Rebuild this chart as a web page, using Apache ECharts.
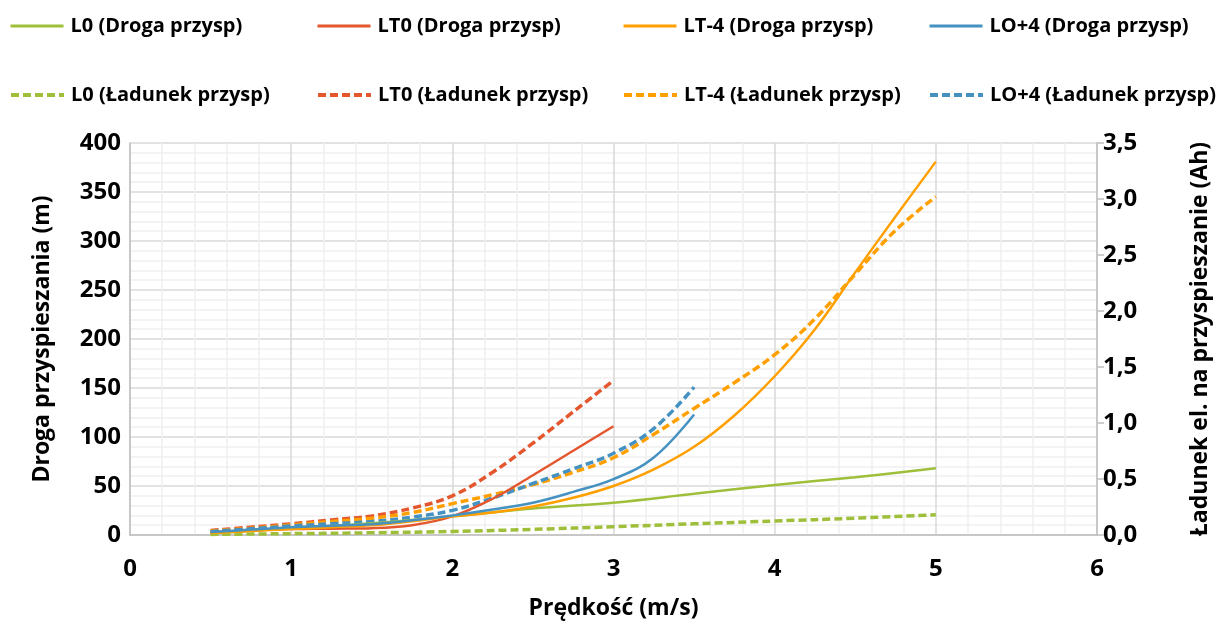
<!DOCTYPE html>
<html>
<head>
<meta charset="utf-8">
<script src="https://cdn.jsdelivr.net/npm/echarts@6/dist/echarts.min.js"></script>
<style>
html,body{margin:0;padding:0;background:#fff;}
#c{width:1220px;height:627px;}
</style>
</head>
<body>
<div id="c"></div>
<script>
// ---- data ----
const xL0 = [0.5, 1, 1.5, 2, 2.5, 3, 3.5, 4, 4.5, 5];
const L0_droga = [1.5, 7, 12, 19, 27, 33, 42, 51, 59, 68];
const L0_ladunek = [0.005, 0.012, 0.02, 0.032, 0.05, 0.074, 0.1, 0.125, 0.15, 0.18];

const xLT0 = [0.5, 0.75, 1, 1.25, 1.5, 1.75, 2, 2.25, 2.5, 2.75, 3];
const LT0_droga = [2.5, 4.5, 6, 6.5, 7, 10, 19, 37, 61, 86, 111];
const LT0_ladunek = [0.04, 0.07, 0.1, 0.135, 0.17, 0.24, 0.35, 0.56, 0.82, 1.1, 1.38];

const xLT4 = [0.5, 0.75, 1, 1.25, 1.5, 1.75, 2, 2.25, 2.5, 2.75, 3, 3.25, 3.5, 3.75, 4, 4.25, 4.5, 4.75, 5];
const LT4_droga = [2, 4, 6, 8, 10, 14, 19, 23, 29, 38, 50, 67, 90, 122, 162, 210, 268, 325, 381];
const LT4_ladunek = [0.035, 0.06, 0.09, 0.12, 0.15, 0.2, 0.28, 0.36, 0.45, 0.56, 0.69, 0.9, 1.13, 1.36, 1.61, 1.93, 2.33, 2.72, 3.02];

const xLO4 = [0.5, 0.75, 1, 1.25, 1.5, 1.75, 2, 2.25, 2.5, 2.75, 3, 3.25, 3.5];
const LO4_droga = [3, 5.5, 8, 9.5, 11, 15, 20, 26, 33, 44, 57, 79, 123];
const LO4_ladunek = [0.03, 0.055, 0.08, 0.1, 0.12, 0.16, 0.22, 0.33, 0.46, 0.59, 0.73, 0.95, 1.32];

const xTicks = [0, 1, 2, 3, 4, 5, 6];
const leftTicks = [0, 50, 100, 150, 200, 250, 300, 350, 400];
const rightTicks = [0, 0.5, 1, 1.5, 2, 2.5, 3, 3.5];

const names = [
  'L0 (Droga przysp)', 'LT0 (Droga przysp)', 'LT-4 (Droga przysp)', 'LO+4 (Droga przysp)',
  'L0 (Ładunek przysp)', 'LT0 (Ładunek przysp)', 'LT-4 (Ładunek przysp)', 'LO+4 (Ładunek przysp)'
];
const colors = ['#9fbf3b', '#e4572e', '#ffa000', '#4592c2'];

function pairs(xs, ys) { return xs.map((x, i) => [x, ys[i]]); }

const FONT = '"Open Sans", "DejaVu Sans", sans-serif';

const seriesDefs = [
  [xL0, L0_droga, 0, 0], [xLT0, LT0_droga, 1, 0], [xLT4, LT4_droga, 2, 0], [xLO4, LO4_droga, 3, 0],
  [xL0, L0_ladunek, 0, 1], [xLT0, LT0_ladunek, 1, 1], [xLT4, LT4_ladunek, 2, 1], [xLO4, LO4_ladunek, 3, 1]
];

const series = seriesDefs.map((d, i) => ({
  name: names[i],
  type: 'line',
  yAxisIndex: d[3],
  data: pairs(d[0], d[1]),
  smooth: 0.4,
  symbol: 'none',
  z: d[3] === 1 ? 3 : 4,
  lineStyle: d[3] === 1
    ? { color: colors[d[2]], width: 3.5, type: [8, 4] }
    : { color: colors[d[2]], width: 2.5, type: 'solid' },
  itemStyle: { color: colors[d[2]] }
}));

const legendX = [9, 316, 622, 928];
const legendY = [16, 85];
const legends = names.map((n, i) => ({
  data: [n],
  left: legendX[i % 4],
  top: legendY[Math.floor(i / 4)],
  itemWidth: 53,
  itemHeight: 14,
  itemGap: 0,
  padding: 0,
  itemStyle: { opacity: 0 },
  lineStyle: { width: i < 4 ? 3 : 4 },
  textStyle: { fontFamily: FONT, fontWeight: 'bold', fontSize: 20, color: '#000', padding: [0, 0, 0, 2] }
}));

const gridColor = '#d9d9d9';
const minorColor = '#efefef';

const option = {
  animation: false,
  backgroundColor: '#fff',
  legend: legends,
  grid: { left: 130, right: 122, top: 143, bottom: 92, containLabel: false },
  xAxis: {
    type: 'value',
    min: xTicks[0], max: xTicks[xTicks.length - 1], interval: 1,
    name: 'Prędkość (m/s)',
    nameLocation: 'middle',
    nameGap: 62,
    nameTextStyle: { fontFamily: FONT, fontWeight: 'bold', fontSize: 23, color: '#000' },
    axisLine: { show: true, lineStyle: { color: '#bfbfbf', width: 1.5 } },
    axisTick: { show: false },
    axisLabel: { fontFamily: FONT, fontWeight: 'bold', fontSize: 24, color: '#000', margin: 22 },
    splitLine: { show: true, lineStyle: { color: gridColor, width: 1.5 } },
    minorTick: { show: false, splitNumber: 5 },
    minorSplitLine: { show: true, lineStyle: { color: minorColor, width: 1.5 } }
  },
  yAxis: [
    {
      type: 'value',
      min: leftTicks[0], max: leftTicks[leftTicks.length - 1], interval: 50,
      name: 'Droga przyspieszania (m)',
      nameLocation: 'middle',
      nameGap: 76,
      nameRotate: 90,
      nameTextStyle: { fontFamily: FONT, fontWeight: 'bold', fontSize: 23, color: '#000' },
      axisLine: { show: true, lineStyle: { color: '#bfbfbf', width: 1.5 } },
      axisTick: { show: false },
      axisLabel: { fontFamily: FONT, fontWeight: 'bold', fontSize: 24, color: '#000', margin: 9 },
      splitLine: { show: true, lineStyle: { color: gridColor, width: 1.5 } },
      minorTick: { show: false, splitNumber: 5 },
      minorSplitLine: { show: true, lineStyle: { color: minorColor, width: 1.5 } }
    },
    {
      type: 'value',
      position: 'right',
      min: rightTicks[0], max: rightTicks[rightTicks.length - 1], interval: 0.5,
      name: 'Ładunek el. na przyspieszanie (Ah)',
      nameLocation: 'middle',
      nameGap: 92,
      nameRotate: 90,
      nameTextStyle: { fontFamily: FONT, fontWeight: 'bold', fontSize: 23, color: '#000' },
      axisLine: { show: true, lineStyle: { color: '#bfbfbf', width: 1.5 } },
      axisTick: { show: true, inside: false, length: 7, lineStyle: { color: '#bfbfbf', width: 1.5 } },
      axisLabel: {
        fontFamily: FONT, fontWeight: 'bold', fontSize: 24, color: '#000', margin: 6,
        formatter: v => v.toFixed(1).replace('.', ',')
      },
      splitLine: { show: false },
      minorSplitLine: { show: false }
    }
  ],
  series: series
};

const chart = echarts.init(document.getElementById('c'), null, { renderer: 'canvas' });
chart.setOption(option);
</script>
</body>
</html>
